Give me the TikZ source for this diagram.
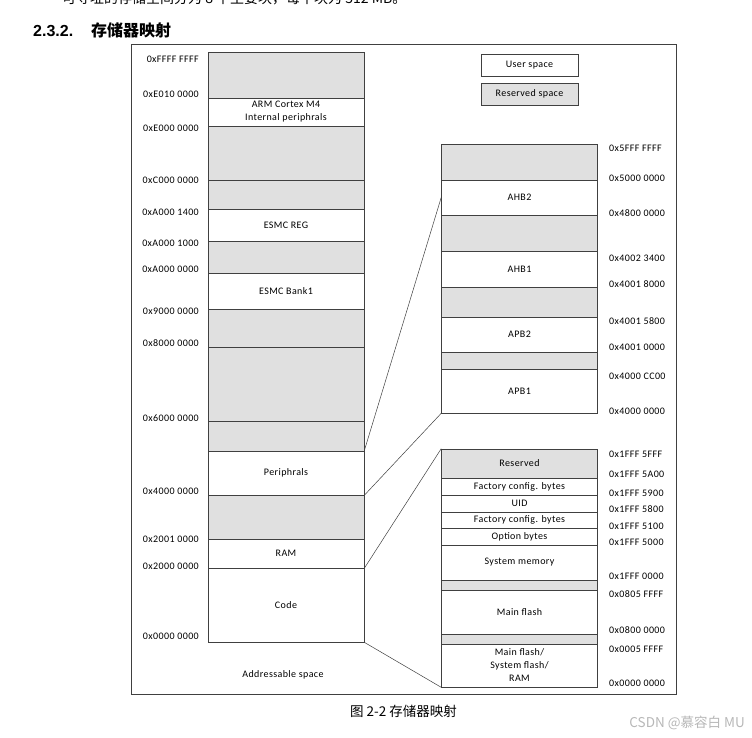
\documentclass[tikz,border=0pt]{standalone}
\usepackage{fontspec}
\setmainfont{Liberation Sans}
\newfontfamily\cjk{Noto Sans CJK SC}
\newfontfamily\calib[LetterSpace=4]{Carlito}
\usetikzlibrary{positioning}
\usepackage{xcolor}
\definecolor{rsvc}{HTML}{E0E0E0}
\definecolor{linec}{HTML}{404040}
\definecolor{markc}{HTML}{B8B8B8}

\begin{document}
\begin{tikzpicture}[
    x=1pt, y=-1pt,
    every node/.style={font=\calib\fontsize{10}{13}\selectfont, inner sep=0pt},
    blk/.style={draw=linec, line width=0.6pt, align=center, minimum width=156pt},
    addr/.style={font=\calib\fontsize{10}{12}\selectfont},
    lnk/.style={draw=linec, line width=0.5pt}]

  \useasboundingbox[fill=white] (0,0) rectangle (752,738);

  % page text around the figure
  \node[anchor=base west, font=\cjk\fontsize{14}{16}\selectfont] (intro) at (62,4)
    {可寻址的存储空间分为 8 个主要块，每个块为 512 MB。};
  \node[anchor=base west, font=\bfseries\fontsize{16}{18}\selectfont] (secno) at (33,36.5) {2.3.2.};
  \node[anchor=base west, font=\cjk\bfseries\fontsize{16}{18}\selectfont] (sectitle) at (91,36.5) {存储器映射};

  % figure frame
  \draw[linec, line width=0.6pt] (131,44) rectangle (676,694);

  % addressable space: name/top/bottom/fill/text
  \foreach \nm/\ya/\yb/\fc/\txt in {
      l1/52/98/rsvc/{},
      arm/98/126/white/{ARM Cortex M4\\Internal periphrals},
      l2/126/180/rsvc/{},
      l3/180/209/rsvc/{},
      esr/209/241/white/{ESMC REG},
      l4/241/273/rsvc/{},
      esb/273/309/white/{ESMC Bank1},
      l5/309/347/rsvc/{},
      l6/347/421/rsvc/{},
      l7/421/451/rsvc/{},
      per/451/495/white/{Periphrals},
      l8/495/539/rsvc/{},
      ram/539/568/white/{RAM},
      code/568/642/white/{Code}} {
    \pgfmathsetmacro{\h}{\yb-\ya}
    \node[blk, fill=\fc, minimum height=\h pt] (\nm) at (286,{(\ya+\yb)/2}) {\txt};
  }
  \node (addrsp) at (283,675) {Addressable space};

  % peripheral buses
  \foreach \nm/\ya/\yb/\fc/\txt in {
      r1/144/180/rsvc/{},
      ahb2/180/215/white/{AHB2},
      r2/215/251/rsvc/{},
      ahb1/251/287/white/{AHB1},
      r3/287/317/rsvc/{},
      apb2/317/352/white/{APB2},
      r4/352/369/rsvc/{},
      apb1/369/413/white/{APB1}} {
    \pgfmathsetmacro{\h}{\yb-\ya}
    \node[blk, fill=\fc, minimum height=\h pt] (\nm) at (519.5,{(\ya+\yb)/2}) {\txt};
  }

  % code and system areas
  \foreach \nm/\ya/\yb/\fc/\txt in {
      rsvd/449/478/rsvc/{Reserved},
      fc1/478/495/white/{Factory config. bytes},
      uid/495/512/white/{UID},
      fc2/512/528/white/{Factory config. bytes},
      opt/528/545/white/{Option bytes},
      sys/545/580/white/{System memory},
      r5/580/590/rsvc/{},
      mfl/590/634/white/{Main flash},
      r6/634/644/rsvc/{},
      mix/644/687/white/{Main flash/\\System flash/\\RAM}} {
    \pgfmathsetmacro{\h}{\yb-\ya}
    \node[blk, fill=\fc, minimum height=\h pt] (\nm) at (519.5,{(\ya+\yb)/2}) {\txt};
  }

  % addresses
  \foreach \y/\a [count=\i] in {59/0xFFFF FFFF, 94/0xE010 0000, 128/0xE000 0000,
      180/0xC000 0000, 212/0xA000 1400, 243/0xA000 1000, 269/0xA000 0000,
      311/0x9000 0000, 343/0x8000 0000, 418/0x6000 0000, 491/0x4000 0000,
      539/0x2001 0000, 566/0x2000 0000, 636/0x0000 0000} {
    \node[addr, anchor=east] (la-\i) at (199,\y) {\a};
  }
  \foreach \y/\a [count=\i] in {148/0x5FFF FFFF, 178/0x5000 0000, 213/0x4800 0000,
      258/0x4002 3400, 284/0x4001 8000, 321/0x4001 5800, 347/0x4001 0000,
      376/0x4000 CC00, 411/0x4000 0000, 454/0x1FFF 5FFF, 474/0x1FFF 5A00,
      493/0x1FFF 5900, 509/0x1FFF 5800, 526/0x1FFF 5100, 542/0x1FFF 5000,
      576/0x1FFF 0000, 594/0x0805 FFFF, 630/0x0800 0000, 649/0x0005 FFFF,
      683/0x0000 0000} {
    \node[addr, anchor=west] (ra-\i) at (609,\y) {\a};
  }

  % legend
  \node[blk, fill=white, minimum width=97pt, minimum height=22pt] (keyusr) at (529.5,65) {User space};
  \node[blk, fill=rsvc, minimum width=97pt, minimum height=22pt] (keyrsv) at (529.5,94) {Reserved space};

  % zoom lines
  \draw[lnk] (per.north east) -- (ahb2.west);
  \draw[lnk] (per.south east) -- (apb1.south west);
  \draw[lnk] (ram.south east) -- (rsvd.north west);
  \draw[lnk] (code.south east) -- (mix.south west);

  \node[anchor=base west, font=\cjk\fontsize{13.5}{16}\selectfont] (caption) at (350,716.5) {图 2-2 存储器映射};
  \node[anchor=base east, text=markc, font=\cjk\fontsize{13.5}{16}\selectfont] (mark) at (745,727) {CSDN @慕容白 MU};
\end{tikzpicture}
\end{document}
